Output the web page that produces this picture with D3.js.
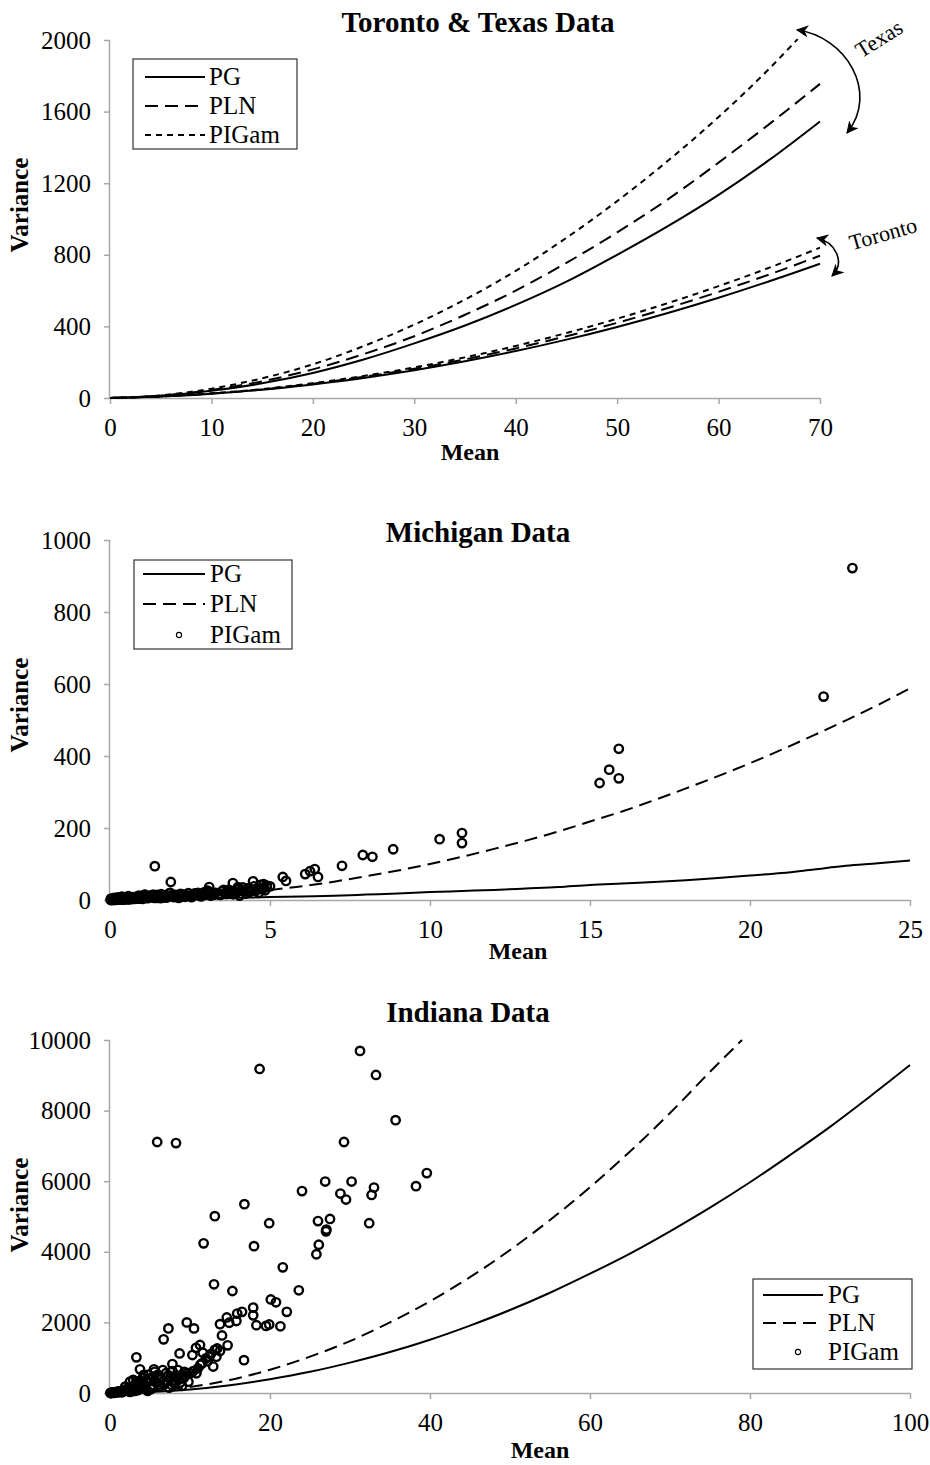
<!DOCTYPE html>
<html><head><meta charset="utf-8">
<script src="https://cdn.jsdelivr.net/npm/d3@7"></script>
<style>body{margin:0;background:#fff} text{font-family:"Liberation Serif","Times New Roman",serif;fill:#000}</style>
</head><body><svg id="c" width="930" height="1465"></svg>
<script>
// ---------- Panel 1: Toronto & Texas ----------
const topMeans = [0,5,10,15,20,25,30,35,40,45,50,55,60,65,70];
const texasPG   = [0,12,40,82,140,215,305,405,520,650,800,960,1135,1330,1545];
const texasPLN  = [0,13,45,93,160,245,345,465,600,755,925,1110,1315,1530,1755];
const texasPIGamMeans = [0,5,10,15,20,25,30,35,40,45,50,55,60,65,67.8];
const texasPIGam = [0,15,52,110,188,290,410,550,710,895,1100,1325,1570,1840,2005];
const torontoPG    = [0,8,24,46,76,112,155,205,262,326,397,475,560,652,750];
const torontoPLN   = [0,9,25,48,80,118,163,216,277,345,420,503,593,690,795];
const torontoPIGam = [0,9,26,50,83,123,171,227,291,363,443,530,625,728,840];

// ---------- Panel 2: Michigan ----------
const michMeans = [0,1,2,3,4,5,6,7,8,9,10,11,12,13,14,15,16,17,18,19,20,21,22,23,24,25];
const michPG  = [0,1,2,4,6,8,10,12,15,18,22,25,28,32,36,42,46,50,55,61,68,75,85,95,102,110];
const michPLN = [0,2,6,11,18,28,38,51,66,82,100,120,142,165,190,218,246,277,310,344,380,418,458,499,542,588];
const michObsMean = [0.02,0.05,0.08,0.1,0.12,0.15,0.18,0.2,0.22,0.25,0.28,0.3,0.33,0.35,0.38,0.4,0.43,0.45,0.48,0.5,0.53,0.55,0.58,0.6,0.63,0.65,0.68,0.7,0.73,0.75,0.78,0.8,0.83,0.85,0.88,0.9,0.93,0.95,0.98,1.0,1.05,1.1,1.12,1.15,1.2,1.25,1.3,1.35,1.4,1.45,1.5,1.55,1.6,1.65,1.7,1.75,1.8,1.85,1.9,2.0,2.05,2.1,2.2,2.25,2.3,2.4,2.45,2.5,2.6,2.7,2.75,2.8,2.9,3.0,3.05,3.1,3.2,3.3,3.4,3.5,3.6,3.7,3.75,3.8,3.9,4.0,4.1,4.2,4.3,4.4,4.5,4.6,4.7,4.8,4.9,5.0,
  0.03,0.07,0.13,0.17,0.24,0.32,0.37,0.42,0.52,0.57,0.62,0.72,0.82,0.92,1.02,1.08,1.18,1.28,1.38,1.48,1.58,1.68,1.78,1.88,1.95,2.15,2.35,2.55,2.65,2.85,2.95,3.15,3.25,3.45,3.55,3.65,3.85,3.95,4.05,4.15,4.25,4.35,4.55,4.65,4.75,4.85,
  1.4,1.9,3.1,3.84,4.0,4.47,4.8,4.9,5.4,5.5,6.1,6.25,6.4,6.5,7.25,7.9,8.2,8.85,10.3,11.0,11.0,15.3,15.6,15.9,15.9,22.3,23.2];
const michObsVar = [0.1,0.3,0.5,0.2,0.8,0.4,1,0.6,1.5,0.8,2,1,1.5,2.5,1.2,3,1.8,2.2,4,1.5,3,5,2,3.5,6,2.5,4,8,3,5,7,3.5,9,5,6,12,4,7,10,5,8,14,6,10,7,12,8,15,9,6,12,9,16,10,7,13,10,18,11,8,14,12,17,10,15,13,19,11,16,14,20,12,17,15,26,22,18,20,16,24,20,28,18,25,22,30,26,24,32,28,38,30,42,34,40,38,
  4,2,6,3,7,5,9,4,6,11,3,5,4,8,3,15,5,11,6,14,5,12,7,20,13,6,9,8,18,10,22,12,15,14,28,17,16,20,12,35,18,22,25,20,30,27,
  94,50,36,47,36,52,44,36,64,53,72,80,86,64,95,125,120,141,169,186,158,325,362,338,420,565,922];

// ---------- Panel 3: Indiana ----------
const indMeansPG = [0,5,10,15,20,25,30,35,40,45,50,55,60,65,70,75,80,85,90,95,100];
const indPG = [0,28,100,220,390,600,860,1160,1510,1910,2350,2840,3380,3950,4580,5250,5970,6740,7540,8400,9290];
const indMeansPLN = [0,5,10,15,20,25,30,35,40,45,50,55,60,65,70,75,79];
const indPLN = [0,45,170,370,660,1030,1470,2000,2600,3280,4050,4900,5830,6840,7930,9100,10000];
const indObsMean = [31.25,18.7,33.25,35.7,5.9,8.25,29.25,39.6,38.25,26.9,30.2,24.0,28.8,29.5,33.0,32.7,16.8,13.1,19.9,32.4,26.0,27.5,27.0,27.05,11.7,18.0,26.1,25.8,21.6,13.0,15.3,23.6,20.1,20.75,22.1,17.9,17.9,16.5,15.9,14.6,15.8,14.9,13.75,18.3,19.5,19.9,21.3,9.6,10.5,7.3,6.7,14.0,8.7,3.3,16.75,14.7,11.25,10.75,10.3,11.6,12.4,13.1,13.75,13.3,12.9,11.5,7.8,5.5,3.75,8.5,9.3,10,10.8,4.2,2.9,2.5,7.1,
  0.2,0.4,0.6,0.8,1,1.2,1.4,1.6,1.8,2,2.2,2.4,2.6,2.8,3,3.2,3.4,3.6,3.8,4,4.2,4.4,4.6,4.8,5,5.2,5.4,5.6,5.8,6,6.2,6.4,6.6,6.8,7,7.2,7.4,7.6,7.8,8,8.3,8.6,9,9.4,9.8,0.5,1.5,2.5,3.5,4.5,0.1,0.3,0.9,1.1,1.3,2.1,3.1,4.1,5.1,6.1,12.2,11.0,9.2,
  0.7,1.7,2.3,2.7,3.3,3.9,4.3,4.9,5.3,5.7,6.3,6.7,7.3,7.7,8.2,8.8,9.6,10.4,11.3,12.0,12.6,13.4,0.05,0.15,0.35,0.55,1.9,2.9,3.7,4.7];
const indObsVar = [9690,9180,9010,7730,7110,7080,7110,6230,5860,5990,5990,5720,5650,5480,5820,5610,5350,5010,4810,4810,4870,4930,4580,4630,4240,4160,4200,3930,3560,3080,2890,2910,2650,2570,2300,2420,2200,2300,2250,2140,2040,1990,1950,1920,1900,1940,1890,2000,1830,1830,1520,1630,1120,1010,930,1350,1360,1280,1075,1140,1030,1220,1190,1030,750,840,820,670,670,650,600,560,560,510,370,320,460,
  5,10,15,30,40,25,60,45,90,70,120,55,150,100,200,130,280,180,350,240,420,160,300,520,380,220,460,600,300,520,180,400,650,250,560,350,150,450,620,280,500,380,200,480,320,2,20,30,80,100,3,8,20,35,50,90,60,140,110,240,900,700,420,
  20,50,140,90,330,260,200,410,160,320,380,250,500,230,350,300,560,620,800,980,1100,1260,1,4,12,18,180,60,120,60];

// ---------- drawing ----------
const svg = d3.select("#c");
const AXIS = "#a8a8a8";
const defs = svg.append("defs");
defs.append("marker").attr("id","ah").attr("viewBox","0 0 12 12").attr("refX",11).attr("refY",6)
  .attr("markerWidth",12).attr("markerHeight",12).attr("markerUnits","userSpaceOnUse").attr("orient","auto-start-reverse")
  .append("path").attr("d","M1,1 L11,6 L1,11 L4,6 Z").attr("fill","#000").attr("stroke","#000").attr("stroke-width",1);

const dashPLN = "13,7", dashPIG = "6,5";
const fmt = d3.format("d");

function panel(cfg){
  const x = d3.scaleLinear().domain(cfg.xd).range(cfg.xr);
  const y = d3.scaleLinear().domain(cfg.yd).range(cfg.yr);
  const g = svg.append("g");
  const ya = g.append("g").attr("transform",`translate(${cfg.xr[0]},0)`)
    .call(d3.axisLeft(y).tickValues(d3.range(cfg.yd[0], cfg.yd[1]+1, cfg.ystep)).tickFormat(fmt).tickSize(6).tickPadding(13));
  const xa = g.append("g").attr("transform",`translate(0,${cfg.yr[0]})`)
    .call(d3.axisBottom(x).tickValues(d3.range(cfg.xd[0], cfg.xd[1]+0.001, cfg.xstep)).tickFormat(fmt).tickSize(6).tickPadding(14));
  [ya,xa].forEach(a=>{
    a.select(".domain").attr("stroke",AXIS).attr("stroke-width",1.5);
    a.selectAll(".tick line").attr("stroke",AXIS).attr("stroke-width",1.5);
    a.selectAll(".tick text").attr("font-family","Liberation Serif, serif").attr("font-size",25).attr("fill","#333");
  });
  ya.select(".domain").attr("d",`M-0.5,${cfg.yr[0]}V${cfg.yr[1]}`);
  xa.select(".domain").attr("d",`M${cfg.xr[0]},0.5H${cfg.xr[1]}`);
  g.append("text").attr("x",cfg.titleX).attr("y",cfg.titleY).attr("text-anchor","middle")
    .attr("font-weight","bold").attr("font-size",29).text(cfg.title);
  g.append("text").attr("x",cfg.meanX).attr("y",cfg.meanY).attr("text-anchor","middle")
    .attr("font-weight","bold").attr("font-size",24).text("Mean");
  g.append("text").attr("transform",`translate(28,${cfg.varY}) rotate(-90)`).attr("text-anchor","middle")
    .attr("font-weight","bold").attr("font-size",25).text("Variance");
  return {x,y,g};
}
function line(p, xs, ys, dash){
  const l = d3.line().x((d,i)=>p.x(xs[i])).y(d=>p.y(d)).curve(d3.curveMonotoneX);
  p.g.append("path").attr("d",l(ys)).attr("fill","none").attr("stroke","#000")
    .attr("stroke-width",2).attr("stroke-dasharray",dash||null);
}
function scatter(p, xs, ys){
  p.g.append("g").selectAll("circle").data(ys).join("circle")
    .attr("cx",(d,i)=>p.x(xs[i])).attr("cy",d=>p.y(d)).attr("r",4.2)
    .attr("fill","none").attr("stroke","#000").attr("stroke-width",2.4);
}
function legend(bx,by,bw,bh,rows,lx1,lx2,tx,withCircle){
  const g = svg.append("g");
  g.append("rect").attr("x",bx).attr("y",by).attr("width",bw).attr("height",bh)
    .attr("fill","#fff").attr("stroke","#333").attr("stroke-width",1.2);
  const names=["PG","PLN","PIGam"], dashes=[null,dashPLN,dashPIG];
  rows.forEach((ry,i)=>{
    if(i===2 && withCircle){
      g.append("circle").attr("cx",(lx1+lx2)/2+5).attr("cy",ry).attr("r",2.6).attr("fill","none").attr("stroke","#000").attr("stroke-width",1.1);
    } else {
      g.append("line").attr("x1",lx1).attr("x2",lx2).attr("y1",ry).attr("y2",ry)
        .attr("stroke","#000").attr("stroke-width",2).attr("stroke-dasharray",dashes[i]);
    }
    g.append("text").attr("x",tx).attr("y",ry+8).attr("font-size",25).text(names[i]);
  });
}

// Panel 1
const p1 = panel({xd:[0,70],xr:[110,820],yd:[0,2000],yr:[398,40],xstep:10,ystep:400,
  title:"Toronto & Texas Data",titleX:478,titleY:32,meanX:470,meanY:460,varY:205});
line(p1, topMeans, torontoPG); line(p1, topMeans, torontoPLN, dashPLN); line(p1, topMeans, torontoPIGam, dashPIG);
line(p1, topMeans, texasPG); line(p1, topMeans, texasPLN, dashPLN); line(p1, texasPIGamMeans, texasPIGam, dashPIG);
legend(133,59,164,90,[77,106,135],145,205,209,false);
// annotations
svg.append("path").attr("d","M797,30 C845,36 880,92 847,133").attr("fill","none").attr("stroke","#000")
  .attr("stroke-width",1.6).attr("marker-start","url(#ah)").attr("marker-end","url(#ah)");
svg.append("path").attr("d","M817,238 C835,242 846,262 832,276").attr("fill","none").attr("stroke","#000")
  .attr("stroke-width",1.6).attr("marker-start","url(#ah)").attr("marker-end","url(#ah)");
svg.append("text").attr("transform","translate(883,45) rotate(-32)").attr("text-anchor","middle").attr("font-size",22).attr("fill","#222").text("Texas");
svg.append("text").attr("transform","translate(885,241) rotate(-16)").attr("text-anchor","middle").attr("font-size",22).attr("fill","#222").text("Toronto");

// Panel 2
const p2 = panel({xd:[0,25],xr:[110,910],yd:[0,1000],yr:[900,540],xstep:5,ystep:200,
  title:"Michigan Data",titleX:478,titleY:542,meanX:518,meanY:959,varY:705});
scatter(p2, michObsMean, michObsVar);
line(p2, michMeans, michPG); line(p2, michMeans, michPLN, dashPLN);
legend(134,560,158,89,[574,604,635],143,205,210,true);

// Panel 3
const p3 = panel({xd:[0,100],xr:[110,910],yd:[0,10000],yr:[1393,1040],xstep:20,ystep:2000,
  title:"Indiana Data",titleX:468,titleY:1022,meanX:540,meanY:1458,varY:1205});
scatter(p3, indObsMean, indObsVar);
line(p3, indMeansPG, indPG); line(p3, indMeansPLN, indPLN, dashPLN);
legend(753,1279,159,90,[1295,1323,1352],763,823,828,true);
</script></body></html>
